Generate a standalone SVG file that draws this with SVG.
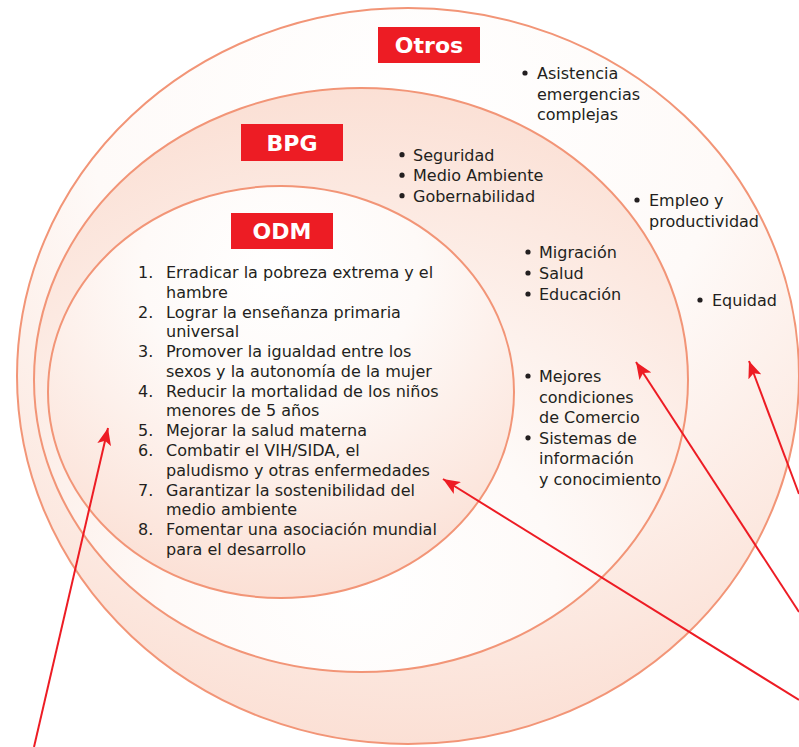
<svg xmlns="http://www.w3.org/2000/svg" width="799" height="747" viewBox="0 0 799 747">
  <defs>
    <style>
      .ring { stroke: #f29577; stroke-width: 2; }
      .tag { fill: #ed1c24; }
      .tagtxt { fill: #ffffff; font-family: "DejaVu Sans", "Liberation Sans", sans-serif; font-weight: bold; font-size: 22px; text-anchor: middle; }
      .txt { fill: #231f20; font-family: "DejaVu Sans", "Liberation Sans", sans-serif; font-size: 16px; }
      .dot { fill: #231f20; }
      .arrow { stroke: #ed1c24; stroke-width: 2; fill: none; marker-end: url(#head); }
    </style>
    <radialGradient id="gOuter" cx="0.5" cy="0.15" r="0.9">
      <stop offset="0" stop-color="#ffffff"/>
      <stop offset="0.45" stop-color="#fefaf8"/>
      <stop offset="1" stop-color="#fbddd1"/>
    </radialGradient>
    <radialGradient id="gMiddle" cx="0.5" cy="0.85" r="0.85">
      <stop offset="0" stop-color="#ffffff"/>
      <stop offset="0.35" stop-color="#fefaf8"/>
      <stop offset="1" stop-color="#fbe0d5"/>
    </radialGradient>
    <radialGradient id="gInner" cx="0.5" cy="0.2" r="0.85">
      <stop offset="0" stop-color="#ffffff"/>
      <stop offset="0.35" stop-color="#fefaf8"/>
      <stop offset="1" stop-color="#fbddd1"/>
    </radialGradient>
    <marker id="head" markerUnits="userSpaceOnUse" markerWidth="18" markerHeight="14" refX="17" refY="7" orient="auto">
      <path d="M0,0 L17,7 L0,14 L4,7 Z" fill="#ed1c24"/>
    </marker>
  </defs>

  <!-- Otros: outer ring -->
  <g id="otros">
    <ellipse class="ring" cx="408" cy="376" rx="391" ry="368" fill="url(#gOuter)"/>
  </g>

  <!-- BPG: middle ring -->
  <g id="bpg">
    <ellipse class="ring" cx="361" cy="380" rx="327" ry="292" fill="url(#gMiddle)"/>
  </g>

  <!-- ODM: inner ring -->
  <g id="odm">
    <ellipse class="ring" cx="281" cy="392" rx="233" ry="206" fill="url(#gInner)"/>
  </g>

  <!-- Ring titles -->
  <g id="tag-otros">
    <rect class="tag" x="378" y="27" width="102" height="36"/>
    <text class="tagtxt" x="429" y="53">Otros</text>
  </g>
  <g id="tag-bpg">
    <rect class="tag" x="241" y="124" width="102" height="37"/>
    <text class="tagtxt" x="292" y="151">BPG</text>
  </g>
  <g id="tag-odm">
    <rect class="tag" x="231" y="213" width="102" height="36"/>
    <text class="tagtxt" x="282" y="239">ODM</text>
  </g>

  <!-- Goal list inside the inner ring -->
  <g id="odm-list" class="txt">
    <text x="138" y="278">1.</text><text x="166" y="278">Erradicar la pobreza extrema y el</text>
    <text x="166" y="297.8">hambre</text>
    <text x="138" y="317.5">2.</text><text x="166" y="317.5">Lograr la enseñanza primaria</text>
    <text x="166" y="337.3">universal</text>
    <text x="138" y="357.1">3.</text><text x="166" y="357.1">Promover la igualdad entre los</text>
    <text x="166" y="376.8">sexos y la autonomía de la mujer</text>
    <text x="138" y="396.6">4.</text><text x="166" y="396.6">Reducir la mortalidad de los niños</text>
    <text x="166" y="416.4">menores de 5 años</text>
    <text x="138" y="436.2">5.</text><text x="166" y="436.2">Mejorar la salud materna</text>
    <text x="138" y="455.9">6.</text><text x="166" y="455.9">Combatir el VIH/SIDA, el</text>
    <text x="166" y="475.7">paludismo y otras enfermedades</text>
    <text x="138" y="495.5">7.</text><text x="166" y="495.5">Garantizar la sostenibilidad del</text>
    <text x="166" y="515.2">medio ambiente</text>
    <text x="138" y="535">8.</text><text x="166" y="535">Fomentar una asociación mundial</text>
    <text x="166" y="554.8">para el desarrollo</text>
  </g>

  <!-- Middle ring items -->
  <g id="bpg-list">
    <g class="dot">
      <circle cx="402" cy="154.7" r="2.6"/>
      <circle cx="402" cy="175.2" r="2.6"/>
      <circle cx="402" cy="195.7" r="2.6"/>
      <circle cx="528" cy="252" r="2.6"/>
      <circle cx="528" cy="273" r="2.6"/>
      <circle cx="528" cy="294" r="2.6"/>
      <circle cx="528" cy="376" r="2.6"/>
      <circle cx="528" cy="437.8" r="2.6"/>
    </g>
    <g class="txt">
      <text x="413" y="160.7">Seguridad</text>
      <text x="413" y="181.2">Medio Ambiente</text>
      <text x="413" y="201.7">Gobernabilidad</text>

      <text x="539" y="258">Migración</text>
      <text x="539" y="279">Salud</text>
      <text x="539" y="300">Educación</text>

      <text x="539" y="382">Mejores</text>
      <text x="539" y="402.6">condiciones</text>
      <text x="539" y="423.2">de Comercio</text>
      <text x="539" y="443.8">Sistemas de</text>
      <text x="539" y="464.4">información</text>
      <text x="539" y="485">y conocimiento</text>
    </g>
  </g>

  <!-- Outer ring items -->
  <g id="otros-list">
    <g class="dot">
      <circle cx="525" cy="73" r="2.6"/>
      <circle cx="637" cy="200" r="2.6"/>
      <circle cx="700" cy="300" r="2.6"/>
    </g>
    <g class="txt">
      <text x="537" y="79">Asistencia</text>
      <text x="537" y="99.7">emergencias</text>
      <text x="537" y="120.4">complejas</text>

      <text x="649" y="206">Empleo y</text>
      <text x="649" y="227">productividad</text>

      <text x="712" y="306">Equidad</text>
    </g>
  </g>

  <!-- Pointer arrows -->
  <g id="connectors">
    <line class="arrow" x1="34" y1="747" x2="108" y2="428"/>
    <line class="arrow" x1="799" y1="700" x2="443" y2="479"/>
    <line class="arrow" x1="799" y1="612" x2="636" y2="362"/>
    <line class="arrow" x1="799" y1="494" x2="749" y2="361"/>
  </g>
</svg>
